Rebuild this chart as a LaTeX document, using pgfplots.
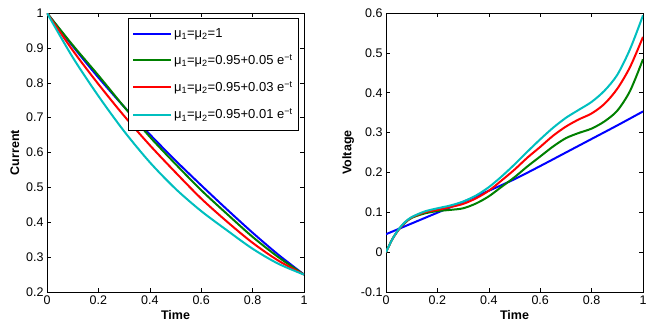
\documentclass[border=0pt]{standalone}
\usepackage{fontspec}
\setmainfont{Liberation Sans}
\usepackage{pgfplots}
\pgfplotsset{compat=1.18}
\definecolor{mblue}{rgb}{0,0,1}
\definecolor{mgreen}{rgb}{0,0.5,0}
\definecolor{mred}{rgb}{1,0,0}
\definecolor{mcyan}{rgb}{0,0.75,0.75}
\pgfplotsset{
  myax/.style={
    scale only axis, width=257pt, height=279pt,
    anchor=south west,
    xmin=0, xmax=1,
    xtick={0,0.2,0.4,0.6,0.8,1},
    tick align=inside, tick pos=both,
    major tick length=4pt,
    tick style={black, line width=0.5pt},
    axis line style={line width=0.6pt},
    /pgf/number format/assume math mode=true,
    ticklabel style={font=\fontsize{12.5}{14}\selectfont},
    label style={font=\bfseries\fontsize{12.5}{14}\selectfont},
    xlabel={Time},
    xlabel style={yshift=1pt},
    every axis plot/.append style={line width=2pt, smooth, no marks},
    clip=true,
  }
}
\begin{document}
\begin{tikzpicture}
\path[use as bounding box] (0,0) rectangle (653pt,329pt);
\begin{axis}[myax, at={(47pt,37pt)},
  ymin=0.2, ymax=1, ytick={0.2,0.3,0.4,0.5,0.6,0.7,0.8,0.9,1},
  ylabel={Current},
  legend style={at={(0.9805,0.982)}, anchor=north east, draw=black, line width=0.6pt,
    font=\fontsize{13}{15}\selectfont, cells={anchor=west}, row sep=11.5pt,
    inner xsep=4pt, inner ysep=8pt},
  legend image code/.code={\draw[#1, line width=2pt] (0pt,0pt) -- (38pt,0pt);},
]
\addplot[mblue] coordinates {(0,1) (0.1,0.905) (0.2,0.815) (0.3,0.731) (0.4,0.652) (0.5,0.577) (0.6,0.506) (0.7,0.437) (0.8,0.370) (0.9,0.307) (1,0.25)};
\addlegendentry{μ\textsubscript{1}=μ\textsubscript{2}=1}
\addplot[mgreen] coordinates {(0,1) (0.1,0.908) (0.2,0.821) (0.3,0.731) (0.4,0.645) (0.5,0.567) (0.6,0.492) (0.7,0.424) (0.8,0.358) (0.9,0.300) (1,0.25)};
\addlegendentry{μ\textsubscript{1}=μ\textsubscript{2}=0.95+0.05 e\textsuperscript{−t}}
\addplot[mred] coordinates {(0,1) (0.1,0.893) (0.2,0.796) (0.3,0.705) (0.4,0.621) (0.5,0.543) (0.6,0.468) (0.7,0.402) (0.8,0.341) (0.9,0.290) (1,0.25)};
\addlegendentry{μ\textsubscript{1}=μ\textsubscript{2}=0.95+0.03 e\textsuperscript{−t}}
\addplot[mcyan] coordinates {(0,1) (0.1,0.873) (0.2,0.762) (0.3,0.661) (0.4,0.572) (0.5,0.496) (0.6,0.432) (0.7,0.377) (0.8,0.324) (0.9,0.281) (1,0.25)};
\addlegendentry{μ\textsubscript{1}=μ\textsubscript{2}=0.95+0.01 e\textsuperscript{−t}}
\end{axis}
\begin{axis}[myax, at={(386pt,37pt)},
  ymin=-0.1, ymax=0.6, ytick={-0.1,0,0.1,0.2,0.3,0.4,0.5,0.6},
  ylabel={Voltage},
]
\addplot[mblue] coordinates {(0,0.045) (0.1,0.072) (0.2,0.099) (0.3,0.126) (0.4,0.154) (0.5,0.183) (0.6,0.216) (0.7,0.250) (0.8,0.284) (0.9,0.318) (1,0.353)};
\addplot[mgreen] coordinates {(0,0) (0.025,0.033) (0.05,0.057) (0.075,0.074) (0.1,0.086) (0.15,0.097) (0.2,0.103) (0.25,0.106) (0.3,0.110) (0.35,0.122) (0.4,0.140) (0.45,0.164) (0.5,0.188) (0.55,0.215) (0.6,0.240) (0.65,0.265) (0.7,0.286) (0.75,0.299) (0.8,0.310) (0.85,0.328) (0.9,0.355) (0.95,0.405) (1,0.484)};
\addplot[mred] coordinates {(0,0) (0.025,0.033) (0.05,0.057) (0.075,0.075) (0.1,0.087) (0.15,0.100) (0.2,0.106) (0.25,0.113) (0.3,0.121) (0.35,0.135) (0.4,0.154) (0.45,0.180) (0.5,0.207) (0.55,0.237) (0.6,0.264) (0.65,0.292) (0.7,0.315) (0.75,0.333) (0.8,0.348) (0.85,0.372) (0.9,0.410) (0.95,0.465) (1,0.540)};
\addplot[mcyan] coordinates {(0,0) (0.025,0.033) (0.05,0.058) (0.075,0.076) (0.1,0.088) (0.15,0.102) (0.2,0.110) (0.25,0.117) (0.3,0.127) (0.35,0.142) (0.4,0.163) (0.45,0.190) (0.5,0.220) (0.55,0.252) (0.6,0.283) (0.65,0.312) (0.7,0.337) (0.75,0.357) (0.8,0.377) (0.85,0.405) (0.9,0.445) (0.95,0.510) (1,0.594)};
\end{axis}
\end{tikzpicture}
\end{document}
